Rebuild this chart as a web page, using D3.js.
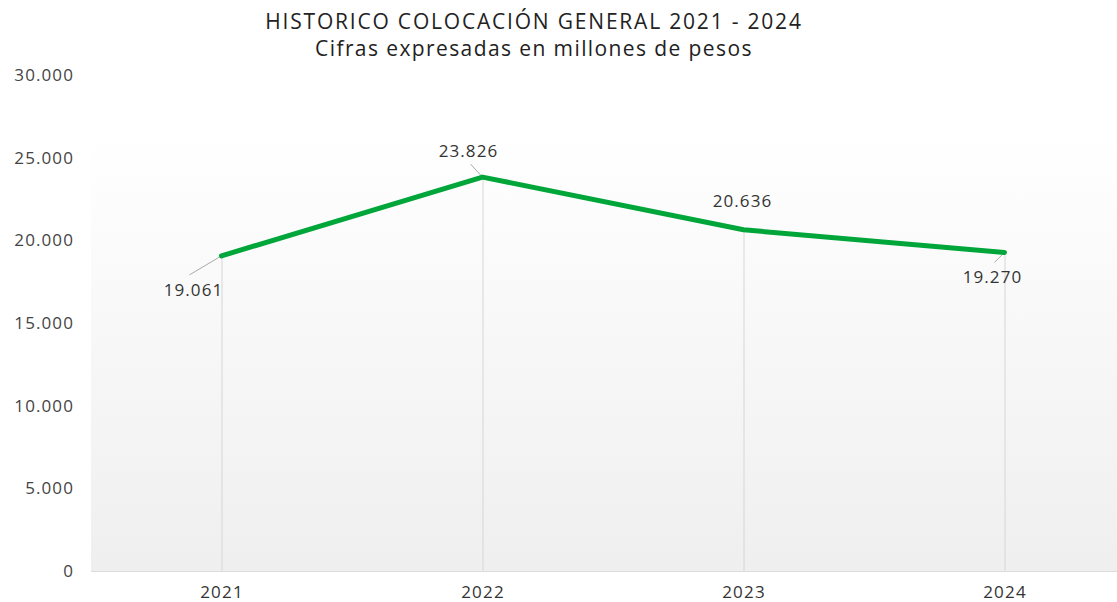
<!DOCTYPE html>
<html>
<head>
<meta charset="utf-8">
<script src="https://cdn.jsdelivr.net/npm/d3@7"></script>
<style>
    body { margin: 0; background: #fff; }
    text { font-family: "Open Sans", sans-serif; }
</style>
</head>
<body>
<div id="chart"></div>
<script>
const years = ["2021", "2022", "2023", "2024"];
const values = [19061, 23826, 20636, 19270];
const yTicks = [0, 5000, 10000, 15000, 20000, 25000, 30000];
const title = "HISTORICO COLOCACIÓN GENERAL 2021 - 2024";
const subtitle = "Cifras expresadas en millones de pesos";

// label placement relative to the point (dx, dy of text, leader line end)
const labelPos = [
    { dx: -28, dy: 40, lx: -32, ly: 19 },
    { dx: -14, dy: -20, lx: -12, ly: -13 },
    { dx: -1, dy: -23, lx: null, ly: null },
    { dx: -12, dy: 31, lx: -10, ly: 10 },
];

const width = 1117;
const height = 602;
const fmt = d3.formatLocale({ decimal: ",", thousands: ".", grouping: [3], currency: ["$", ""] }).format(",d");

const svg = d3
    .select("#chart")
    .append("svg")
    .attr("width", width)
    .attr("height", height);

const x = d3.scalePoint().domain(years).range([91, 1135]).padding(0.5);
const y = d3.scaleLinear().domain([0, 30000]).range([571, 75]);

// background gradient
const defs = svg.append("defs");
const grad = defs
    .append("linearGradient")
    .attr("id", "bg")
    .attr("x1", 0).attr("y1", 0)
    .attr("x2", 0).attr("y2", 1);
grad.append("stop").attr("offset", "0%").attr("stop-color", "#ffffff");
grad.append("stop").attr("offset", "100%").attr("stop-color", "#efefef");

svg.append("rect")
    .attr("x", 91)
    .attr("y", 133)
    .attr("width", width - 91)
    .attr("height", y(0) - 133)
    .attr("fill", "url(#bg)");

svg.append("line")
    .attr("x1", 91).attr("x2", width)
    .attr("y1", y(0) + 0.5).attr("y2", y(0) + 0.5)
    .attr("stroke", "#dcdcdc")
    .attr("stroke-width", 1);

// titles
svg.append("text")
    .attr("x", 534).attr("y", 29)
    .attr("text-anchor", "middle")
    .style("font-size", "21px")
    .style("letter-spacing", "1.8px")
    .style("fill", "#222")
    .text(title);
svg.append("text")
    .attr("x", 534).attr("y", 56)
    .attr("text-anchor", "middle")
    .style("font-size", "21px")
    .style("letter-spacing", "1.4px")
    .style("fill", "#222")
    .text(subtitle);

// y axis
const yAxisGroup = svg.append("g").attr("transform", "translate(74,0)");
yAxisGroup.call(d3.axisLeft(y).tickValues(yTicks).tickSize(0).tickPadding(0).tickFormat(fmt));
yAxisGroup.select(".domain").remove();
yAxisGroup.selectAll("text")
    .style("font-family", "Open Sans, sans-serif")
    .style("font-size", "17px")
    .style("letter-spacing", "1.1px")
    .style("fill", "#444");

// x axis
const xAxisGroup = svg.append("g").attr("transform", `translate(0,${y(0)})`);
xAxisGroup.call(d3.axisBottom(x).tickSize(0).tickPadding(15));
xAxisGroup.select(".domain").remove();
xAxisGroup.selectAll("text")
    .style("font-family", "Open Sans, sans-serif")
    .style("font-size", "17px")
    .style("letter-spacing", "1.2px")
    .style("fill", "#333");

const data = years.map((yr, i) => ({ year: yr, value: values[i], pos: labelPos[i] }));

// drop lines
svg.append("g")
    .selectAll("line")
    .data(data)
    .enter()
    .append("line")
    .attr("x1", (d) => x(d.year) + 0.5)
    .attr("x2", (d) => x(d.year) + 0.5)
    .attr("y1", (d) => y(d.value))
    .attr("y2", y(0))
    .attr("stroke", "#d6d6d6")
    .attr("stroke-width", 1);

// leader lines
svg.append("g")
    .selectAll("line")
    .data(data.filter((d) => d.pos.lx !== null))
    .enter()
    .append("line")
    .attr("x1", (d) => x(d.year))
    .attr("y1", (d) => y(d.value))
    .attr("x2", (d) => x(d.year) + d.pos.lx)
    .attr("y2", (d) => y(d.value) + d.pos.ly)
    .attr("stroke", "#aaa")
    .attr("stroke-width", 1);

const valueLine = d3
    .line()
    .x((d) => x(d.year))
    .y((d) => y(d.value));

svg.append("path")
    .attr("d", valueLine(data))
    .attr("fill", "none")
    .attr("stroke", "#00a63a")
    .attr("stroke-width", 5)
    .attr("stroke-linejoin", "round")
    .attr("stroke-linecap", "round");

// value labels
svg.append("g")
    .selectAll("text")
    .data(data)
    .enter()
    .append("text")
    .attr("x", (d) => x(d.year) + d.pos.dx)
    .attr("y", (d) => y(d.value) + d.pos.dy)
    .attr("text-anchor", "middle")
    .style("font-size", "17px")
    .style("letter-spacing", "1.1px")
    .style("fill", "#333")
    .text((d) => fmt(d.value));
</script>
</body>
</html>
